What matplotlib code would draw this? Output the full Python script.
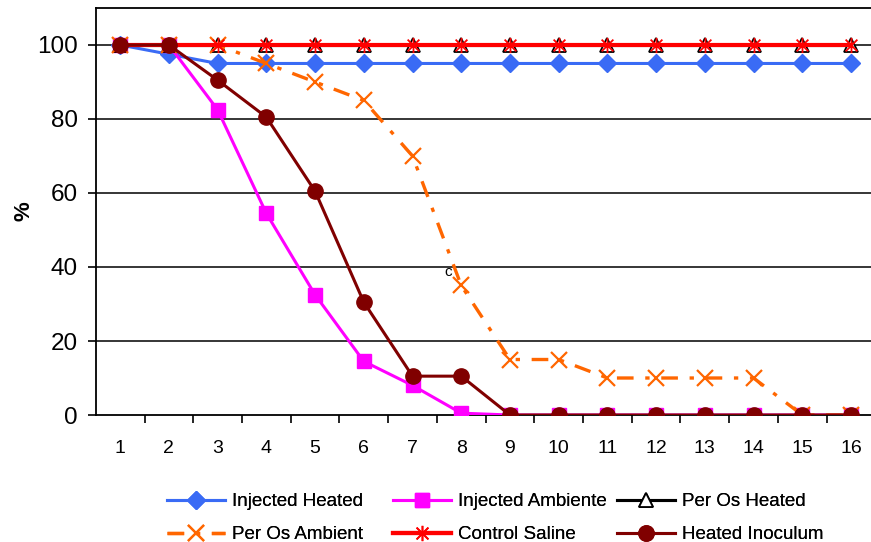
import matplotlib.pyplot as plt
from matplotlib.path import Path

plt.rcParams['font.family'] = ['Liberation Sans', 'DejaVu Sans']

days = list(range(1, 17))

injected_heated = [100, 97.5, 95, 95, 95, 95, 95, 95, 95, 95, 95, 95, 95, 95, 95, 95]
injected_ambiente = [100, 100, 82.5, 54.5, 32.5, 14.5, 8, 0.5, 0, 0, 0, 0, 0, 0, 0, 0]
per_os_heated = [100] * 16
per_os_ambient = [100, 100, 100, 95, 90, 85, 70, 35, 15, 15, 10, 10, 10, 10, 0, 0]
control_saline = [100] * 16
heated_inoculum = [100, 100, 90.5, 80.5, 60.5, 30.5, 10.5, 10.5, 0, 0, 0, 0, 0, 0, 0, 0]

# Excel-style asterisk: an X crossed by a vertical bar
asterisk = Path([(-1, -1), (1, 1), (-1, 1), (1, -1), (0, -1.3), (0, 1.3)],
                [Path.MOVETO, Path.LINETO] * 3)

fig = plt.figure(figsize=(8.71, 5.42), dpi=100)
ax = fig.add_axes([0.110, 0.2343, 0.895, 0.751])

for y in range(20, 101, 20):
    ax.axhline(y, color='black', lw=1.1, zorder=1)

h1, = ax.plot(days, injected_heated, color='#3A6BF5', lw=2.2, marker='D',
              ms=9, mec='#3A6BF5', label='Injected Heated', zorder=3)
h2, = ax.plot(days, injected_ambiente, color='#FF00FF', lw=2.2, marker='s',
              ms=10, label='Injected Ambiente', zorder=3)
h3, = ax.plot(days, per_os_heated, color='black', lw=2.2, marker='^',
              ms=10, mfc='white', mec='black', mew=1.3, label='Per Os Heated', zorder=3)
h4, = ax.plot(days, per_os_ambient, color='#FF6600', lw=2.4, ls=(0, (5, 3.5, 1.3, 3.5)),
              marker='x', ms=11, mew=1.6, label='Per Os Ambient', zorder=3)
h5, = ax.plot(days, control_saline, color='#FF0000', lw=3, marker=asterisk,
              ms=11, mew=1.3, label='Control Saline', zorder=4)
h6, = ax.plot(days, heated_inoculum, color='#800000', lw=2.2, marker='o',
              ms=11, label='Heated Inoculum', zorder=5)

ax.text(7.65, 37.5, 'c', fontsize=11, color='black')

ax.set_xlim(0.5, 16.5)
ax.set_ylim(0, 110)
ax.set_yticks(range(0, 101, 20))
ax.set_xticks(days)
ax.set_xticks([d + 0.5 for d in days], minor=True)
ax.tick_params(axis='x', which='major', length=0, pad=18, labelsize=14)
ax.tick_params(axis='x', which='minor', length=6, width=1.2, direction='out')
ax.tick_params(axis='y', length=6, width=1.2, direction='out', pad=7, labelsize=17.5)
for side in ['left', 'bottom', 'top']:
    ax.spines[side].set_linewidth(1.3)
ax.spines['right'].set_visible(False)
ax.set_ylabel('%', fontsize=16, fontweight='bold', labelpad=2)

# one legend per column so the columns sit at fixed positions
columns = [([h1, h4], 0.1917), ([h2, h5], 0.4512), ([h3, h6], 0.7084)]
for handles, x0 in columns:
    leg = fig.legend(handles=handles, ncol=1, frameon=False,
                     loc='upper left', bbox_to_anchor=(x0, 0.090),
                     fontsize=13.5, handlelength=3.1, handletextpad=0.35,
                     labelspacing=0.85, borderpad=0, borderaxespad=0)
    fig.add_artist(leg)

fig.savefig('out.png', dpi=100)
